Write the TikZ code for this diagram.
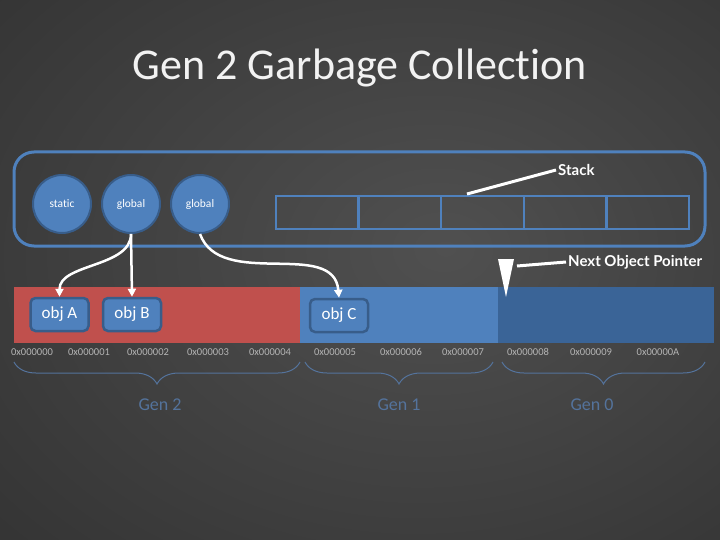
\documentclass[tikz,border=0pt]{standalone}
\usepackage{fontspec}
\setmainfont[Ligatures=NoCommon]{Carlito}
\newfontfamily\lblfont{Lato}
\usetikzlibrary{positioning,calc,arrows.meta,decorations.pathreplacing}
\definecolor{ofblue}{HTML}{4F81BD}
\definecolor{ofline}{HTML}{385D8A}
\definecolor{ofred}{HTML}{C0504D}
\definecolor{ofdark}{HTML}{3A6497}
\definecolor{bracecol}{HTML}{54739C}
\definecolor{addrcol}{HTML}{B4B4B4}
\definecolor{bgin}{HTML}{505050}
\definecolor{bgmid}{HTML}{2C2C2C}
\definecolor{bgout}{HTML}{181818}
\pgfdeclareradialshading{bgshade}{\pgfpoint{6bp}{2bp}}{color(0bp)=(bgin); color(50bp)=(bgmid); color(75bp)=(bgout)}
\tikzset{gcirc/.style={circle, draw=ofline, line width=2pt, fill=ofblue, minimum size=58pt, inner sep=0pt, text=white, font=\fontsize{11.5}{13}\selectfont}}
\tikzset{gobj/.style={draw=ofline, line width=2.5pt, fill=ofblue, rounded corners=5pt, minimum width=58pt, minimum height=33pt, text=white, font=\fontsize{17}{19}\selectfont}}
\tikzset{cellbox/.style={draw=ofblue, line width=2.5pt, minimum width=82.6pt, minimum height=33pt, inner sep=0pt, outer sep=0pt}}
\tikzset{stackframe/.style={draw=ofblue, line width=3pt, rounded corners=20pt}}
\tikzset{arr3/.style={draw=white, line width=2.5pt, -{Triangle[width=8pt,length=8pt]}}}
\tikzset{callout/.style={draw=white, line width=3pt}}
\tikzset{addr/.style={text=addrcol, font=\fontsize{10.5}{12}\selectfont}}
\tikzset{genbrace/.style={draw=bracecol, line width=1pt, decorate, decoration={brace, mirror, amplitude=22pt}}}
\tikzset{genlbl/.style={text=bracecol, font=\fontsize{18}{20}\selectfont}}
\tikzset{ptrlbl/.style={text=white, inner sep=2pt, font=\lblfont\bfseries\fontsize{15}{18}\selectfont}}

\begin{document}
\begin{tikzpicture}[x=1pt, y=-1pt]
	\useasboundingbox (0,0) rectangle (720,540);
	\shade[shading=bgshade] (0,0) rectangle (720,540);
	%
	\node[text=white!95!black, font=\fontsize{44}{50}\selectfont] (ttl) at (360,68) {Gen 2 Garbage Collection};
	%
	% stack
	\draw[stackframe] (14,152) rectangle (705,246);
	\foreach \i in {1,...,5}
		\node[cellbox] (c\i) at ({234.7+82.6*\i},212.5) {};
	\node[gcirc] (st) at (62,204) {static};
	\node[gcirc, right=9pt of st] (g1) {global};
	\node[gcirc, right=9pt of g1] (g2) {global};
	%
	\coordinate (stk) at (467,194);
	\node[ptrlbl, anchor=west] (stkl) at (556,170) {Stack};
	\draw[callout] (stk) -- (stkl.west);
	%
	% heap
	\fill[ofred] (14,287) rectangle (300,343);
	\fill[ofblue] (300,287) rectangle (498,343);
	\fill[ofdark] (498,287) rectangle (714,343);
	\node[gobj] (objA) at (59.5,314.5) {obj A};
	\node[gobj, right=12pt of objA] (objB) {obj B};
	\node[gobj] (objC) at (339,315.5) {obj C};
	%
	\draw[arr3] (g1.south) to[out=-90, in=90, looseness=0.9] (objA.north);
	\draw[arr3] (g1.south) -- (objB.north);
	\draw[arr3] (g2.south) to[out=-70, in=95] (objC.north);
	%
	\fill[white] (498,259) -- (514,259) -- (506,297) -- cycle;
	\coordinate (ptr) at (517,266);
	\node[ptrlbl, anchor=west] (nopl) at (566,262) {Next Object Pointer};
	\draw[callout] (ptr) -- (nopl.west);
	%
	\foreach \x/\a [count=\i] in {32/0x000000, 89/0x000001, 148/0x000002, 208/0x000003, 270/0x000004, 335/0x000005, 401/0x000006, 463/0x000007, 528/0x000008, 591/0x000009, 658/0x00000A}
		\node[addr] (ad\i) at (\x,352) {\a};
	%
	\draw[genbrace] (14,362) -- (300,362);
	\draw[genbrace] (305,362) -- (493,362);
	\draw[genbrace] (502,362) -- (705,362);
	\node[genlbl] (gen2) at (160,405) {Gen 2};
	\node[genlbl] (gen1) at (399,405) {Gen 1};
	\node[genlbl] (gen0) at (592,405) {Gen 0};
\end{tikzpicture}
\end{document}
